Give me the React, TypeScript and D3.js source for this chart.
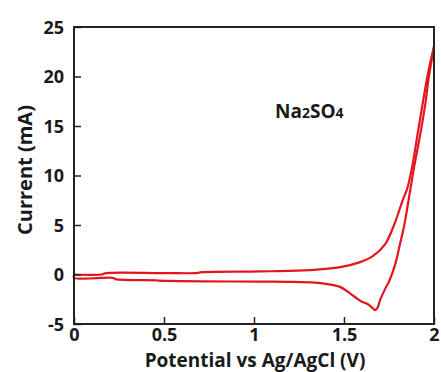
import React, { useEffect, useRef } from "react";
import * as d3 from "d3";

// forward scan (0 -> 2 V)
const fwdV = [0, 0.16, 0.17, 0.5, 0.69, 0.7, 0.98, 1.1, 1.31, 1.48, 1.59, 1.66, 1.73, 1.78, 1.83, 1.85, 1.88, 1.91, 1.94, 1.97, 2.0];
const fwdI = [0.0, 0.02, 0.12, 0.14, 0.16, 0.22, 0.3, 0.33, 0.45, 0.75, 1.25, 1.85, 3.1, 5.1, 7.7, 8.6, 11.0, 14.3, 17.6, 20.6, 23.0];

// reverse scan (2 -> 0 V)
const revV = [2.0, 1.97, 1.95, 1.92, 1.89, 1.865, 1.835, 1.81, 1.79, 1.775, 1.75, 1.73, 1.7, 1.689, 1.672, 1.662, 1.633, 1.6, 1.578, 1.533, 1.478, 1.4, 1.339, 1.2, 1.03, 0.47, 0.46, 0.23, 0.22, 0.0];
const revI = [23.0, 19.8, 17.0, 13.8, 10.9, 8.2, 5.0, 3.0, 1.4, 0.5, -0.7, -1.4, -2.6, -3.25, -3.6, -3.45, -3.0, -2.75, -2.5, -1.9, -1.25, -0.95, -0.82, -0.74, -0.72, -0.62, -0.59, -0.47, -0.35, -0.32];

const xTicks = [0, 0.5, 1, 1.5, 2];
const yTicks = [-5, 0, 5, 10, 15, 20, 25];

const App = () => {
  const svgRef = useRef<SVGSVGElement>(null);
  const width = 441;
  const height = 372;

  useEffect(() => {
    const svg = d3.select(svgRef.current);
    svg.selectAll("*").remove();

    const margin = { top: 27, right: 7, bottom: 48, left: 74 };
    const innerWidth = width - margin.left - margin.right;
    const innerHeight = height - margin.top - margin.bottom;

    const x = d3.scaleLinear().domain([0, 2]).range([0, innerWidth]);
    const y = d3.scaleLinear().domain([-5, 25]).range([innerHeight, 0]);

    const g = svg.append("g").attr("transform", `translate(${margin.left},${margin.top})`);

    const font = "'Open Sans', sans-serif";
    const textColor = "#1a1a1a";

    const line = d3
      .line<[number, number]>()
      .x((d) => x(d[0]))
      .y((d) => y(d[1]))
      .curve(d3.curveCatmullRom.alpha(0.5));

    // forward branch
    g.append("path")
      .datum(fwdV.map((v, i) => [v, fwdI[i]] as [number, number]))
      .attr("d", line)
      .attr("fill", "none")
      .attr("stroke", "#e3151f")
      .attr("stroke-width", 2.2);

    // reverse branch, closing back to the start
    g.append("path")
      .datum(revV.map((v, i) => [v, revI[i]] as [number, number]).concat([[fwdV[0], fwdI[0]]]))
      .attr("d", line)
      .attr("fill", "none")
      .attr("stroke", "#e3151f")
      .attr("stroke-width", 2.2);

    // frame
    g.append("rect")
      .attr("x", 0)
      .attr("y", 0)
      .attr("width", innerWidth)
      .attr("height", innerHeight)
      .attr("fill", "none")
      .attr("stroke", "#222")
      .attr("stroke-width", 2);

    // axes with inward ticks
    const xAxis = g
      .append("g")
      .attr("transform", `translate(0,${innerHeight})`)
      .call(d3.axisBottom(x).tickValues(xTicks).tickSizeInner(-7).tickSizeOuter(0).tickPadding(4).tickFormat((d) => String(d)));
    const yAxis = g
      .append("g")
      .call(d3.axisLeft(y).tickValues(yTicks).tickSizeInner(-7).tickSizeOuter(0).tickPadding(10).tickFormat((d) => String(d)));

    [xAxis, yAxis].forEach((ax) => {
      ax.select(".domain").remove();
      ax.selectAll("line").attr("stroke", "#222").attr("stroke-width", 1.5);
      ax.selectAll("text")
        .attr("fill", textColor)
        .style("font-family", font)
        .style("font-size", "18px")
        .style("font-weight", "700");
    });
    xAxis.selectAll("text").attr("dy", "0.71em");
    yAxis.selectAll("text").attr("dy", "0.35em");

    // axis titles
    svg.append("text")
      .attr("x", 255)
      .attr("y", 367)
      .attr("text-anchor", "middle")
      .attr("fill", textColor)
      .style("font-family", font)
      .style("font-size", "19px")
      .style("font-weight", "700")
      .text("Potential vs Ag/AgCl (V)");

    svg.append("text")
      .attr("transform", "translate(32,170) rotate(-90)")
      .attr("text-anchor", "middle")
      .attr("fill", textColor)
      .style("font-family", font)
      .style("font-size", "20px")
      .style("font-weight", "700")
      .text("Current (mA)");

    // annotation
    const label = svg.append("text")
      .attr("x", 275)
      .attr("y", 118)
      .attr("fill", textColor)
      .style("font-family", font)
      .style("font-size", "19px")
      .style("font-weight", "700");
    label.append("tspan").text("Na");
    label.append("tspan").style("font-size", "14px").text("2");
    label.append("tspan").text("SO");
    label.append("tspan").style("font-size", "14px").text("4");
  }, []);

  return <svg ref={svgRef} width={width} height={height} style={{ display: "block", position: "absolute", left: 0, top: 0 }}></svg>;
};

export default App;
